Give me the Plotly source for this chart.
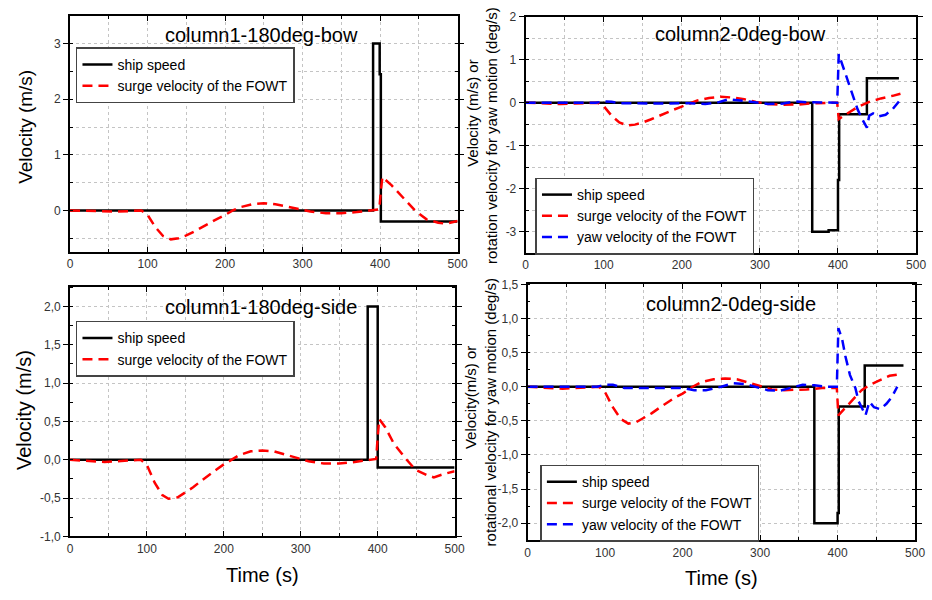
import plotly.graph_objects as go

# ---------------- data ----------------
# Panel 1: column1-180deg-bow
ship1_t = [0, 391, 391, 399.5, 399.5, 401, 401, 500]
ship1_v = [0, 0, 3.0, 3.0, 2.45, 2.45, -0.2, -0.2]
surge1_t = [0, 20, 40, 60, 80, 92, 100, 110, 120, 130, 140, 150, 160, 170, 180, 190, 200, 210, 220, 235,
            250, 265, 280, 295, 310, 330, 350, 370, 390, 399, 401, 403, 415, 430, 445, 460, 475, 485, 495, 500]
surge1_v = [0, -0.01, -0.02, -0.02, -0.01, 0, -0.08, -0.3, -0.46, -0.52, -0.5, -0.45, -0.38, -0.3, -0.22, -0.15,
            -0.08, 0.0, 0.06, 0.11, 0.13, 0.11, 0.07, 0.02, -0.02, -0.05, -0.05, -0.03, 0.0, 0.02, 0.35, 0.6,
            0.45, 0.22, 0.0, -0.16, -0.22, -0.24, -0.21, -0.19]

# Panel 2: column2-0deg-bow
ship2_t = [0, 367, 367, 388, 388, 400, 400, 401.5, 401.5, 437, 437, 478]
ship2_v = [0, 0, -3.0, -3.0, -2.97, -2.97, -1.8, -1.8, -0.27, -0.27, 0.57, 0.57]
surge2_t = [0, 20, 45, 60, 80, 92, 100, 110, 120, 130, 140, 150, 160, 170, 180, 190, 200, 210, 220, 235,
            250, 265, 280, 295, 310, 330, 350, 370, 390, 399, 401, 410, 425, 440, 455, 470, 480]
surge2_v = [0, -0.01, -0.03, -0.02, -0.01, 0, -0.08, -0.3, -0.46, -0.53, -0.51, -0.46, -0.39, -0.31, -0.23,
            -0.16, -0.09, -0.02, 0.05, 0.11, 0.14, 0.12, 0.08, 0.02, -0.03, -0.05, -0.04, -0.01, 0.0, 0.0,
            -0.38, -0.27, -0.1, 0.02, 0.1, 0.16, 0.21]
yaw2_t = [0, 50, 90, 100, 110, 120, 150, 180, 210, 230, 245, 260, 275, 290, 310, 330, 345, 360, 380, 399,
          401, 407, 416, 425, 431, 437, 440, 445, 452, 461, 470, 478]
yaw2_v = [0, 0, 0, 0.03, 0.02, -0.01, -0.02, -0.02, -0.01, -0.03, 0.0, 0.08, 0.05, 0.02, -0.03, -0.02, 0.03,
          0.01, 0, 0, 1.13, 0.8, 0.35, -0.15, -0.38, -0.58, -0.3, -0.25, -0.32, -0.28, -0.15, 0.03]

# Panel 3: column1-180deg-side
ship3_t = [0, 387, 387, 400, 400, 500]
ship3_v = [0, 0, 2.0, 2.0, -0.1, -0.1]
surge3_t = [0, 20, 45, 60, 80, 92, 100, 110, 120, 128, 140, 150, 160, 170, 180, 190, 200, 210, 220, 235,
            250, 265, 280, 295, 310, 330, 350, 370, 390, 398, 400, 402, 410, 421, 436, 449, 464, 473, 485, 500]
surge3_v = [0, -0.01, -0.03, -0.02, -0.01, 0, -0.07, -0.3, -0.46, -0.51, -0.49, -0.43, -0.36, -0.28, -0.2,
            -0.13, -0.06, 0.0, 0.06, 0.11, 0.12, 0.11, 0.07, 0.02, -0.02, -0.05, -0.05, -0.03, 0.0, 0.01,
            0.3, 0.53, 0.42, 0.21, 0.02, -0.13, -0.2, -0.23, -0.19, -0.15]

# Panel 4: column2-0deg-side
ship4_t = [0, 370, 370, 400, 400, 401.5, 401.5, 435, 435, 485]
ship4_v = [0, 0, -2.0, -2.0, -1.85, -1.85, -0.29, -0.29, 0.31, 0.31]
surge4_t = [0, 20, 45, 60, 80, 92, 100, 110, 120, 130, 140, 150, 160, 170, 180, 190, 200, 213, 225, 240,
            255, 270, 285, 300, 315, 330, 345, 360, 380, 399, 401, 410, 423, 431, 442, 455, 467, 478]
surge4_v = [0, -0.01, -0.03, -0.02, -0.01, 0, -0.08, -0.3, -0.47, -0.54, -0.52, -0.46, -0.39, -0.31, -0.23,
            -0.16, -0.1, 0.0, 0.07, 0.11, 0.12, 0.11, 0.06, 0.01, -0.04, -0.05, -0.05, -0.04, -0.02, -0.02,
            -0.42, -0.31, -0.14, -0.05, 0.03, 0.1, 0.16, 0.18]
yaw4_t = [0, 50, 90, 100, 110, 125, 150, 180, 200, 215, 230, 250, 265, 280, 295, 310, 325, 340, 355, 370,
          385, 399, 401, 406, 410, 416, 423, 427, 436, 441, 447, 455, 463, 470, 477]
yaw4_v = [0, 0, 0, 0.03, 0.03, -0.02, -0.02, -0.01, -0.02, -0.05, -0.05, 0.0, 0.05, 0.04, 0.0, -0.05, -0.06,
          -0.02, 0.03, 0.02, 0.0, 0.0, 0.86, 0.69, 0.45, 0.17, -0.02, -0.21, -0.42, -0.22, -0.3, -0.33, -0.25,
          -0.15, 0.0]

x_ticks = [0, 100, 200, 300, 400, 500]
x_labels = ["0", "100", "200", "300", "400", "500"]
p1_yticks = [0, 1, 2, 3]
p1_ylabels = ["0", "1", "2", "3"]
p2_yticks = [-3, -2, -1, 0, 1, 2]
p2_ylabels = ["-3", "-2", "-1", "0", "1", "2"]
p3_yticks = [-1.0, -0.5, 0.0, 0.5, 1.0, 1.5, 2.0]
p3_ylabels = ["-1,0", "-0,5", "0,0", "0,5", "1,0", "1,5", "2,0"]
p4_yticks = [-2.0, -1.5, -1.0, -0.5, 0.0, 0.5, 1.0, 1.5]
p4_ylabels = ["-2,0", "-1,5", "-1,0", "-0,5", "0,0", "0,5", "1,0", "1,5"]

titles = ["column1-180deg-bow", "column2-0deg-bow", "column1-180deg-side", "column2-0deg-side"]
name_ship = "ship speed"
name_surge = "surge velocity of the FOWT"
name_yaw = "yaw velocity of the FOWT"

# ---------------- figure ----------------
W, H = 932, 600
FONT = "Arial, Liberation Sans, sans-serif"
DASH = "10px,6px"

fig = go.Figure()

def add_traces(idx, ship, surge, yaw=None):
    sfx = "" if idx == 1 else str(idx)
    xa, ya, lg = "x" + sfx, "y" + sfx, "legend" + sfx
    fig.add_trace(go.Scatter(x=ship[0], y=ship[1], mode="lines", name=name_ship,
                             line=dict(color="black", width=2.5), xaxis=xa, yaxis=ya, legend=lg))
    fig.add_trace(go.Scatter(x=surge[0], y=surge[1], mode="lines", name=name_surge,
                             line=dict(color="#ff0000", width=2.5, dash=DASH), xaxis=xa, yaxis=ya, legend=lg))
    if yaw is not None:
        fig.add_trace(go.Scatter(x=yaw[0], y=yaw[1], mode="lines", name=name_yaw,
                                 line=dict(color="#0000ff", width=2.5, dash=DASH), xaxis=xa, yaxis=ya, legend=lg))

add_traces(1, (ship1_t, ship1_v), (surge1_t, surge1_v))
add_traces(2, (ship2_t, ship2_v), (surge2_t, surge2_v), (yaw2_t, yaw2_v))
add_traces(3, (ship3_t, ship3_v), (surge3_t, surge3_v))
add_traces(4, (ship4_t, ship4_v), (surge4_t, surge4_v), (yaw4_t, yaw4_v))

def px_dom_x(a, b):
    return [a / W, b / W]

def px_dom_y(top, bottom):
    return [1 - bottom / H, 1 - top / H]

GRID = dict(gridcolor="#c4c4c4", griddash="dot", gridwidth=1)
tickfont = dict(family=FONT, size=12, color="#333333")

def xaxis(dom, anchor):
    return dict(domain=dom, anchor=anchor, range=[0, 500], tickvals=x_ticks, ticktext=x_labels,
                showline=True, linecolor="black", linewidth=1.8, mirror="ticks",
                ticks="inside", ticklen=5, tickwidth=1.3, tickcolor="black", tickfont=tickfont,
                showgrid=True, zeroline=False,
                minor=dict(dtick=50, tick0=0, ticks="inside", ticklen=3, tickcolor="black",
                           showgrid=True, **GRID), **GRID)

def yaxis(dom, anchor, rng, tv, tt, minor_dtick, minor_grid):
    return dict(domain=dom, anchor=anchor, range=rng, tickvals=tv, ticktext=tt,
                showline=True, linecolor="black", linewidth=1.8, mirror="ticks",
                ticks="outside", ticklen=5, tickwidth=1.3, tickcolor="black", tickfont=tickfont,
                showgrid=True, zeroline=False,
                minor=dict(dtick=minor_dtick, tick0=0, ticks="inside", ticklen=3, tickcolor="black",
                           showgrid=minor_grid, **GRID), **GRID)

d1x, d1y = px_dom_x(68, 461), px_dom_y(9, 251)
d2x, d2y = px_dom_x(530, 926), px_dom_y(10, 252)
d3x, d3y = px_dom_x(68, 458), px_dom_y(287, 542)
d4x, d4y = px_dom_x(532, 925), px_dom_y(284, 546)

legend_base = dict(xanchor="left", yanchor="middle", bgcolor="white", bordercolor="#444444", borderwidth=1.5,
                   font=dict(family=FONT, size=14, color="black"), tracegroupgap=0, itemwidth=30)

fig.update_layout(
    width=W, height=H, margin=dict(l=0, r=0, t=0, b=0),
    paper_bgcolor="white", plot_bgcolor="white",
    font=dict(family=FONT, color="black"),
    showlegend=True,
    xaxis=xaxis(d1x, "y"), yaxis=yaxis(d1y, "x", [-0.75, 3.5], p1_yticks, p1_ylabels, 0.5, True),
    xaxis2=xaxis(d2x, "y2"), yaxis2=yaxis(d2y, "x2", [-3.5, 2], p2_yticks, p2_ylabels, 0.5, True),
    xaxis3=xaxis(d3x, "y3"), yaxis3=yaxis(d3y, "x3", [-1.0, 2.25], p3_yticks, p3_ylabels, 0.25, False),
    xaxis4=xaxis(d4x, "y4"), yaxis4=yaxis(d4y, "x4", [-2.25, 1.5], p4_yticks, p4_ylabels, 0.25, False),
    legend=dict(x=74 / W, y=1 - 70 / H, **legend_base),
    legend2=dict(x=540 / W, y=1 - 214 / H, **legend_base),
    legend3=dict(x=74 / W, y=1 - 350 / H, **legend_base),
    legend4=dict(x=545 / W, y=1 - 508 / H, **legend_base),
)

def ann(text, x, y, size, angle=0):
    fig.add_annotation(text=text, x=x / W, y=1 - y / H, xref="paper", yref="paper",
                       showarrow=False, textangle=angle, xanchor="center", yanchor="middle",
                       font=dict(family=FONT, size=size, color="black"))

# panel titles
ann(titles[0], 262, 29, 20)
ann(titles[1], 748, 28, 20)
ann(titles[2], 262, 307, 20)
ann(titles[3], 738, 304, 20)

# axis titles
ann("Velocity (m/s)", 22, 123, 19, -90)
ann("Velocity (m/s)", 22, 413, 20, -90)
ann("Velocity (m/s) or", 476, 108, 15, -90)
ann("rotation velocity for yaw motion (deg/s)", 496, 132, 15, -90)
ann("Velocity(m/s) or", 474, 400, 15, -90)
ann("rotational velocity for yaw motion (deg/s)", 494, 415, 15, -90)
ann("Time (s)", 263, 582, 20)
ann("Time (s)", 729, 585, 20)

fig.write_html("out.html")
